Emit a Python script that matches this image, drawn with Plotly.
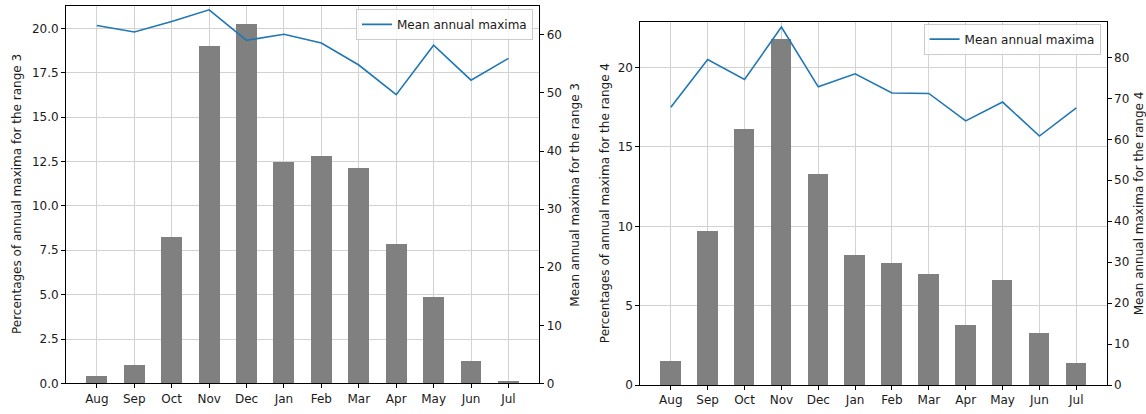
import plotly.graph_objects as go

months = ["Aug", "Sep", "Oct", "Nov", "Dec", "Jan", "Feb", "Mar", "Apr", "May", "Jun", "Jul"]

pct_range3 = [0.43, 1.05, 8.26, 19.04, 20.27, 12.50, 12.83, 12.17, 7.85, 4.90, 1.27, 0.13]
mean_range3 = [61.6, 60.5, 62.3, 64.3, 59.05, 60.1, 58.6, 54.8, 49.7, 58.2, 52.2, 55.95]

pct_range4 = [1.57, 9.71, 16.18, 21.80, 13.30, 8.20, 7.71, 7.03, 3.81, 6.66, 3.28, 1.40]
mean_range4 = [67.8, 79.5, 74.6, 87.4, 72.8, 76.0, 71.3, 71.2, 64.5, 69.1, 60.8, 67.7]

left_title_3 = "Percentages of annual maxima for the range 3"
right_title_3 = "Mean annual maxima for the range 3"
left_title_4 = "Percentages of annual maxima for the range 4"
right_title_4 = "Mean annual maxima for the range 4"
legend_label = "Mean annual maxima"

W, H = 1146, 414
FONT = "DejaVu Sans"
TXT = "#1a1a1a"
GRID = "#d2d2d2"
BAR = "#808080"
LINE = "#1f77b4"


def auto_top(vals):
    lo, hi = min(vals), max(vals)
    return hi + 0.05 * (hi - lo)


fig = go.Figure()

# Left chart (range 3)
fig.add_trace(go.Bar(x=months, y=pct_range3, marker=dict(color=BAR, line=dict(width=0)),
                     width=0.56, xaxis="x", yaxis="y", showlegend=False))
fig.add_trace(go.Scatter(x=months, y=mean_range3, mode="lines", name=legend_label,
                         line=dict(color=LINE, width=1.6), xaxis="x", yaxis="y2", legend="legend"))

# Right chart (range 4)
fig.add_trace(go.Bar(x=months, y=pct_range4, marker=dict(color=BAR, line=dict(width=0)),
                     width=0.56, xaxis="x2", yaxis="y3", showlegend=False))
fig.add_trace(go.Scatter(x=months, y=mean_range4, mode="lines", name=legend_label,
                         line=dict(color=LINE, width=1.6), xaxis="x2", yaxis="y4", legend="legend2"))

xr = [-0.825, len(months) - 1 + 0.825]

common_x = dict(type="category", range=xr, showgrid=True, gridcolor=GRID, gridwidth=1,
                showline=True, linecolor="black", linewidth=1, mirror=True,
                ticks="outside", ticklen=4, tickwidth=1, tickcolor="black",
                tickfont=dict(family=FONT, size=12, color=TXT), zeroline=False)
common_y = dict(showgrid=True, gridcolor=GRID, gridwidth=1, zeroline=False,
                showline=True, linecolor="black", linewidth=1,
                ticks="outside", ticklen=4, tickwidth=1, tickcolor="black",
                tickfont=dict(family=FONT, size=12, color=TXT))
common_y2 = dict(showgrid=False, zeroline=False, side="right",
                 showline=True, linecolor="black", linewidth=1,
                 ticks="outside", ticklen=4, tickwidth=1, tickcolor="black",
                 tickfont=dict(family=FONT, size=12, color=TXT))

dom_x1 = [66 / W, 539.3 / W]
dom_y1 = [(H - 390) / H, (H - 5.7) / H]
dom_x2 = [640.4 / W, 1106.7 / W]
dom_y2 = [(H - 391.7) / H, (H - 22) / H]

legend_style = dict(bgcolor="rgba(255,255,255,0.8)", bordercolor="#cccccc", borderwidth=1,
                    font=dict(family=FONT, size=12, color=TXT), xanchor="right", yanchor="top",
                    itemwidth=30, tracegroupgap=0)

fig.update_layout(
    width=W, height=H, autosize=False,
    margin=dict(l=0, r=0, t=0, b=0),
    paper_bgcolor="white", plot_bgcolor="white",
    font=dict(family=FONT, size=12, color=TXT),
    bargap=0,
    xaxis=dict(domain=dom_x1, anchor="y", **common_x),
    yaxis=dict(domain=dom_y1, anchor="x", range=[0, max(pct_range3) * 1.05],
               dtick=2.5, tick0=0, tickformat=".1f", **common_y),
    yaxis2=dict(overlaying="y", anchor="x", range=[0, auto_top(mean_range3)],
                dtick=10, tick0=0, **common_y2),
    xaxis2=dict(domain=dom_x2, anchor="y3", **common_x),
    yaxis3=dict(domain=dom_y2, anchor="x2", range=[0, max(pct_range4) * 1.05],
                dtick=5, tick0=0, **common_y),
    yaxis4=dict(overlaying="y3", anchor="x2", range=[0, auto_top(mean_range4)],
                dtick=10, tick0=0, **common_y2),
    legend=dict(x=533 / W, y=1 - 9 / H, **legend_style),
    legend2=dict(x=1100.6 / W, y=1 - 24 / H, **legend_style),
)

ann_font = dict(family=FONT, size=12, color=TXT)
for txt, xpx, dom in [(left_title_3, 16.5, dom_y1), (right_title_3, 574.2, dom_y1),
                      (left_title_4, 605.8, dom_y2), (right_title_4, 1139.0, dom_y2)]:
    fig.add_annotation(text=txt, xref="paper", yref="paper", x=xpx / W, y=(dom[0] + dom[1]) / 2,
                       xanchor="center", yanchor="middle", textangle=-90, showarrow=False,
                       font=ann_font)

fig.write_html("out.html",
               config={"displayModeBar": False},
               post_script="document.body.style.margin='0px';document.body.style.overflow='hidden';")
